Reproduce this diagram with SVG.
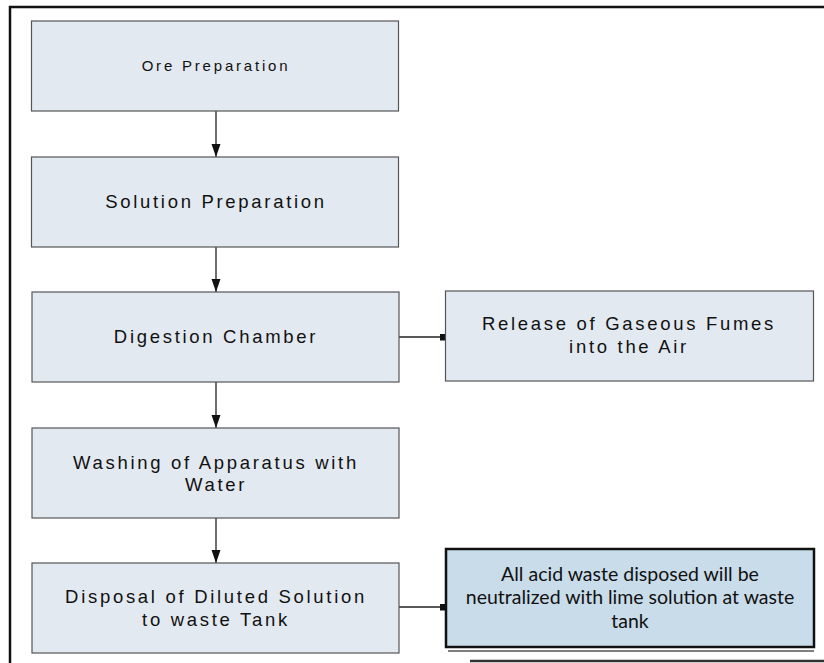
<svg xmlns="http://www.w3.org/2000/svg" width="824" height="663" viewBox="0 0 824 663">
<style>
.box{fill:#e3e9f0;stroke:#555;stroke-width:1.2}
.t{font-family:"Liberation Sans",Arial,sans-serif;font-size:18.5px;letter-spacing:2.7px;fill:#111;text-anchor:middle}
.small{font-size:15px;letter-spacing:2.8px}
.note{fill:#c9dcea;stroke:#111;stroke-width:2.5}
.nt{font-family:Lato,"Open Sans",sans-serif;font-size:19.5px;fill:#111;text-anchor:middle}
.c{stroke:#222;stroke-width:1.3;fill:none}
</style>
<defs>
<marker id="arr" markerWidth="14" markerHeight="10" refX="13" refY="4.5" orient="auto" markerUnits="userSpaceOnUse">
<path d="M0,0 L13,4.5 L0,9 Z" fill="#111"/>
</marker>
<marker id="sq" markerWidth="7" markerHeight="7" refX="6" refY="3.5" markerUnits="userSpaceOnUse">
<rect x="0" y="0" width="7" height="7" fill="#111"/>
</marker>
</defs>
<rect width="824" height="663" fill="#fff"/>
<g id="frame">
<path d="M10,663 V7 H824" fill="none" stroke="#111" stroke-width="2.5"/>
<path d="M470,661 H824" fill="none" stroke="#333" stroke-width="2.5"/>
</g>
<g id="connectors">
<line class="c" x1="216" y1="111" x2="216" y2="157" marker-end="url(#arr)"/>
<line class="c" x1="216" y1="247" x2="216" y2="292" marker-end="url(#arr)"/>
<line class="c" x1="216" y1="382" x2="216" y2="428" marker-end="url(#arr)"/>
<line class="c" x1="216" y1="518" x2="216" y2="563" marker-end="url(#arr)"/>
<line class="c" x1="398" y1="337" x2="446" y2="337" marker-end="url(#sq)"/>
<line class="c" x1="399" y1="607" x2="446" y2="607" marker-end="url(#sq)"/>
</g>
<g id="ore">
<rect class="box" x="31.5" y="21" width="367" height="90"/>
<text class="t small" x="216" y="71">Ore Preparation</text>
</g>
<g id="solution">
<rect class="box" x="31.5" y="157" width="367" height="90"/>
<text class="t" x="216" y="208">Solution Preparation</text>
</g>
<g id="digestion">
<rect class="box" x="32" y="292" width="367" height="90"/>
<text class="t" x="216" y="343">Digestion Chamber</text>
</g>
<g id="release">
<rect class="box" x="445.5" y="291" width="368" height="90"/>
<text class="t" x="629" y="330">Release of Gaseous Fumes</text>
<text class="t" x="629" y="353">into the Air</text>
</g>
<g id="washing">
<rect class="box" x="32" y="428" width="367" height="90"/>
<text class="t" x="216" y="469">Washing of Apparatus with</text>
<text class="t" x="216" y="491">Water</text>
</g>
<g id="disposal">
<rect class="box" x="32" y="563" width="367" height="90"/>
<text class="t" x="216" y="603">Disposal of Diluted Solution</text>
<text class="t" x="216" y="626">to waste Tank</text>
</g>
<g id="note">
<line x1="448" y1="651" x2="814" y2="651" stroke="#555" stroke-width="1.5"/>
<rect class="note" x="446" y="549" width="368" height="98"/>
<text class="nt" x="630" y="581">All acid waste disposed will be</text>
<text class="nt" x="630" y="604">neutralized with lime solution at waste</text>
<text class="nt" x="630" y="628">tank</text>
</g>
</svg>
